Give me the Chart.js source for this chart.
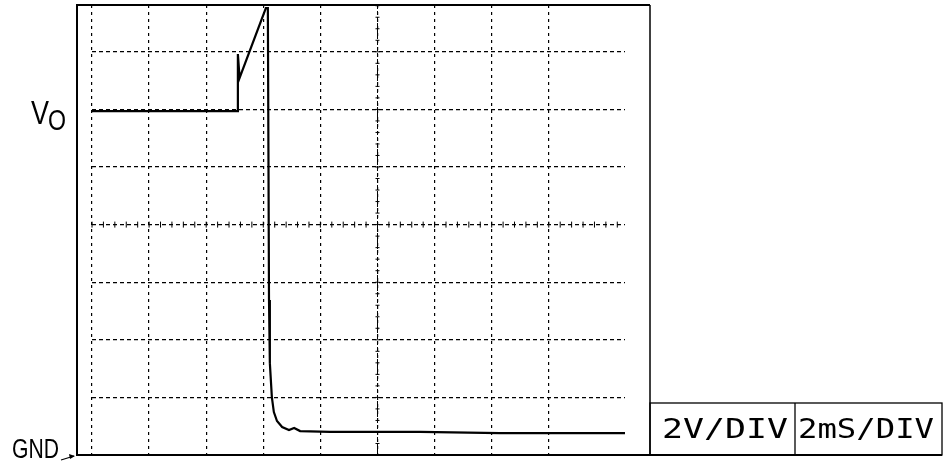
<!DOCTYPE html>
<html>
<head>
<meta charset="utf-8">
<script src="https://cdn.jsdelivr.net/npm/chart.js@4/dist/chart.umd.min.js"></script>
<style>
  html, body { margin: 0; padding: 0; background: #fff; }
  #wrap { width: 949px; height: 463px; }
</style>
</head>
<body>
<div id="wrap"><canvas id="scope" width="949" height="463"></canvas></div>
<script>
// --- Data (time in ms, output in volts; 2 mS/DIV, 2 V/DIV) ---
const timeMs = [0, 5.08, 5.11, 5.17, 6.09, 6.16, 6.18, 6.20, 6.23, 6.30, 6.37, 6.48, 6.66, 6.90, 7.08, 7.29, 8.34, 11.49, 14.29, 18.67];
const voltsV = [11.94, 11.94, 13.92, 13.09, 15.52, 15.52, 10.59, 5.38, 3.19, 2.01, 1.49, 1.18, 0.97, 0.87, 0.94, 0.83, 0.80, 0.80, 0.76, 0.76];

const msPerDiv = 2;
const voltsPerDiv = 2;
const xMaxMs = 18.67;   // visible trace width
const yMaxV = 15.625;   // top of screen
const centerMs = 10;
const centerV = 8;

const labelVolt = "2V/DIV";
const labelTime = "2mS/DIV";

// draws frame, centre graticule ticks and the text labels
const scopeDecor = {
  id: "scopeDecor",
  afterDraw(chart) {
    const ctx = chart.ctx;
    const a = chart.chartArea;
    const xs = chart.scales.x;
    const ys = chart.scales.y;
    const frameL = a.left - 15;
    const frameR = a.right + 25;
    const frameT = a.top;
    const frameB = a.bottom;

    ctx.save();
    ctx.strokeStyle = "#000";
    ctx.fillStyle = "#000";

    // centre lines with minor ticks
    const cx = xs.getPixelForValue(centerMs);
    const cy = ys.getPixelForValue(centerV);
    ctx.lineWidth = 1;
    ctx.setLineDash([4, 2]);
    ctx.beginPath();
    ctx.moveTo(cx, frameT); ctx.lineTo(cx, frameB);
    ctx.stroke();
    ctx.setLineDash([]);
    for (let v = 0; v <= yMaxV; v += voltsPerDiv / 5) {
      const py = ys.getPixelForValue(v);
      ctx.beginPath();
      ctx.moveTo(cx - 2, py); ctx.lineTo(cx + 2, py);
      ctx.stroke();
    }
    for (let t = 0; t <= xMaxMs; t += msPerDiv / 5) {
      const px = xs.getPixelForValue(t);
      ctx.beginPath();
      ctx.moveTo(px, cy - 3); ctx.lineTo(px, cy + 3);
      ctx.stroke();
    }

    // frame
    ctx.lineWidth = 2;
    ctx.beginPath();
    ctx.moveTo(frameR, frameT);
    ctx.lineTo(frameL, frameT);
    ctx.lineTo(frameL, frameB);
    ctx.lineTo(frameR + 292, frameB);
    ctx.stroke();
    ctx.lineWidth = 1.5;
    ctx.beginPath();
    ctx.moveTo(frameR, frameT); ctx.lineTo(frameR, frameB);
    ctx.stroke();

    // scale boxes
    const boxT = frameB - 52;
    const boxMid = frameR + 145;
    const boxR = frameR + 292;
    ctx.lineWidth = 1.3;
    ctx.strokeRect(frameR, boxT, boxR - frameR, frameB - boxT);
    ctx.beginPath();
    ctx.moveTo(boxMid, boxT); ctx.lineTo(boxMid, frameB);
    ctx.stroke();

    function fitText(txt, x, y, font, width) {
      ctx.font = font;
      const w = ctx.measureText(txt).width;
      ctx.save();
      ctx.translate(x, y);
      ctx.scale(width / w, 1);
      ctx.textBaseline = "alphabetic";
      ctx.fillText(txt, 0, 0);
      ctx.restore();
    }

    fitText(labelVolt, frameR + 12, frameB - 17, "27px 'DejaVu Sans Mono'", 126);
    fitText(labelTime, boxMid + 3, frameB - 17, "27px 'DejaVu Sans Mono'", 136);

    // V_O label and GND marker
    const levelY = ys.getPixelForValue(voltsV[0]);
    fitText("V", frameL - 46, levelY + 13, "33px 'Liberation Sans'", 18);
    fitText("O", frameL - 29, levelY + 19, "30px 'Liberation Sans'", 18);
    fitText("GND", frameL - 65, frameB + 3, "27px 'Liberation Sans'", 47);

    // small arrow toward ground level
    ctx.lineWidth = 1.2;
    ctx.beginPath();
    ctx.moveTo(frameL - 16, frameB + 5);
    ctx.lineTo(frameL - 3, frameB + 1);
    ctx.stroke();
    ctx.beginPath();
    ctx.moveTo(frameL - 2, frameB + 1);
    ctx.lineTo(frameL - 8, frameB - 1);
    ctx.lineTo(frameL - 7, frameB + 4);
    ctx.closePath();
    ctx.fill();

    ctx.restore();
  },
};

const points = timeMs.map((t, i) => ({ x: t, y: voltsV[i] }));

new Chart(document.getElementById("scope"), {
  type: "line",
  data: {
    datasets: [
      {
        data: points,
        borderColor: "#000",
        borderWidth: 2.2,
        pointRadius: 0,
        tension: 0,
        fill: false,
        clip: false,
      },
    ],
  },
  options: {
    responsive: false,
    animation: false,
    layout: { padding: { left: 92, top: 5, right: 324, bottom: 8 } },
    plugins: { legend: { display: false }, tooltip: { enabled: false } },
    scales: {
      x: {
        type: "linear",
        min: 0,
        max: xMaxMs,
        ticks: { display: false, stepSize: msPerDiv },
        afterBuildTicks: (s) => {
          s.ticks = s.ticks.filter((t) => t.value % msPerDiv === 0);
        },
        grid: { color: "#000", lineWidth: 1.2, drawTicks: false },
        border: { display: false, dash: [3, 4] },
      },
      y: {
        type: "linear",
        min: 0,
        max: yMaxV,
        ticks: { display: false, stepSize: voltsPerDiv },
        afterBuildTicks: (s) => {
          s.ticks = s.ticks.filter((t) => t.value % voltsPerDiv === 0);
        },
        grid: { color: "#000", lineWidth: 1.2, drawTicks: false },
        border: { display: false, dash: [4, 3] },
      },
    },
  },
  plugins: [scopeDecor],
});
</script>
</body>
</html>
